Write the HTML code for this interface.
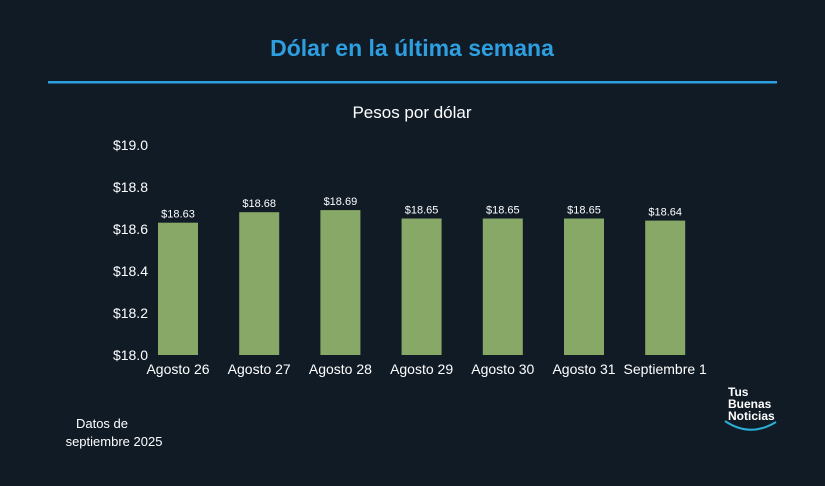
<!DOCTYPE html>
<html><head><meta charset="utf-8"><style>
body{margin:0;width:825px;height:481px;background:#111b26;font-family:"Liberation Sans",sans-serif;overflow:hidden}
</style></head><body>
<svg width="825" height="481">
<text x="412" y="56" text-anchor="middle" font-size="23" font-weight="bold" fill="#2d9fe0">Dólar en la última semana</text>
<rect x="48" y="81" width="729" height="2.5" fill="#2d9fe0"/>
<text x="412" y="118" text-anchor="middle" font-size="17" fill="#ffffff">Pesos por dólar</text>
<g id="ticks"></g><g id="bars"></g>
<text x="102" y="428" text-anchor="middle" font-size="13" fill="#fff">Datos de</text>
<text x="114" y="446" text-anchor="middle" font-size="13" fill="#fff">septiembre 2025</text>
<g>
<text x="728" y="396" font-size="12" font-weight="bold" fill="#fff">Tus</text>
<text x="728" y="408" font-size="12" font-weight="bold" fill="#fff">Buenas</text>
<text x="728" y="420" font-size="12" font-weight="bold" fill="#fff">Noticias</text>
<path d="M725 421 Q750 438 776 422" stroke="#2ab0d8" stroke-width="2" fill="none"/>
</g>
</svg>
<script>
const categories=["Agosto 26","Agosto 27","Agosto 28","Agosto 29","Agosto 30","Agosto 31","Septiembre 1"];
const values=[18.63,18.68,18.69,18.65,18.65,18.65,18.64];
const tickValues=[18.0,18.2,18.4,18.6,18.8,19.0];
const ns="http://www.w3.org/2000/svg";
const y=v=>355-(v-18.0)*210;
const x=i=>178+i*81.2;
function mk(t,a,txt){const e=document.createElementNS(ns,t);for(const k in a)e.setAttribute(k,a[k]);if(txt!=null)e.textContent=txt;return e;}
const tg=document.getElementById('ticks');
tickValues.forEach(v=>{const t=mk('text',{x:148,y:y(v)+5,'text-anchor':'end','font-size':14,fill:'#fff'},'$'+v.toFixed(1));


tg.appendChild(t);});
const bg=document.getElementById('bars');
categories.forEach((c,i)=>{
const r=mk('rect',{x:x(i)-20,y:y(values[i]),width:40,height:355-y(values[i]),fill:'#87a866'});


bg.appendChild(r);
const l=mk('text',{x:x(i),y:y(values[i])-5,'text-anchor':'middle','font-size':11,fill:'#fff'},'$'+values[i].toFixed(2));


bg.appendChild(l);
const xl=mk('text',{x:x(i),y:374,'text-anchor':'middle','font-size':14,fill:'#fff'},c);


bg.appendChild(xl);
});
</script>
</body></html>
